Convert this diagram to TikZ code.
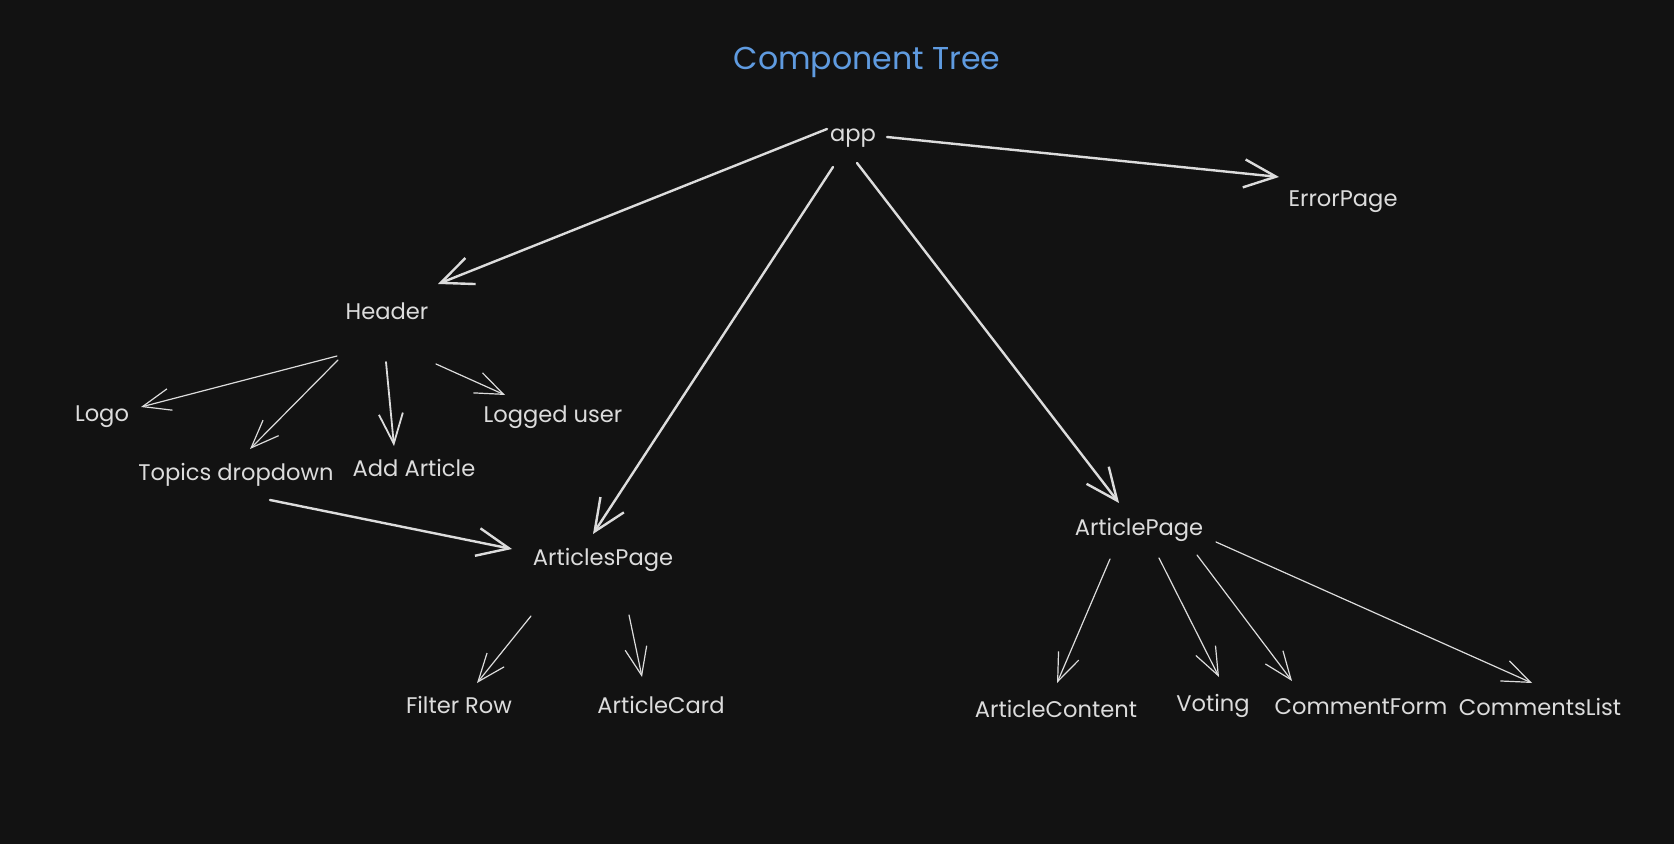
\documentclass[tikz,border=0pt]{standalone}
\usepackage{fontspec}
\setmainfont{Poppins}
\usetikzlibrary{arrows.meta,calc}
\definecolor{bg}{HTML}{121212}
\definecolor{ink}{HTML}{DCDCDC}
\definecolor{titleblue}{HTML}{5F9BE0}
\begin{document}
\begin{tikzpicture}[x=0.5pt,y=-0.5pt,
  lbl/.style={text=ink,font=\fontsize{11.3}{13}\selectfont,inner sep=0pt},
  ttl/.style={text=titleblue,font=\fontsize{15.8}{18}\selectfont,inner sep=0pt},
  thk/.style={draw=ink,line width=1.2pt,line cap=round,-{Straight Barb[length=16pt,width=14pt,line width=1.2pt]}},
  mid/.style={draw=ink,line width=0.9pt,line cap=round,-{Straight Barb[length=15pt,width=12pt,line width=0.9pt]}},
  thn/.style={draw=ink,line width=0.6pt,line cap=round,-{Straight Barb[length=14pt,width=11pt,line width=0.6pt]}}]
\useasboundingbox (0,0) rectangle (1674,844);
\fill[bg] (0,0) rectangle (1674,844);

\node[ttl] (title) at (867,62) {Component Tree};
\node[lbl] (app) at (853,138) {app};
\node[lbl] (err) at (1343,202) {ErrorPage};
\node[lbl] (header) at (387,311) {Header};
\node[lbl] (logo) at (102,417) {Logo};
\node[lbl] (topics) at (236,475) {Topics dropdown};
\node[lbl] (add) at (414,468) {Add Article};
\node[lbl] (logged) at (553,417) {Logged user};
\node[lbl] (apage) at (603,560) {ArticlesPage};
\node[lbl] (filter) at (459,705) {Filter Row};
\node[lbl] (card) at (661,705) {ArticleCard};
\node[lbl] (artp) at (1139,530) {ArticlePage};
\node[lbl] (content) at (1056,709) {ArticleContent};
\node[lbl] (voting) at (1213,706) {Voting};
\node[lbl] (cform) at (1361,707) {CommentForm};
\node[lbl] (clist) at (1540,707) {CommentsList};

\draw[thk] ($(app)+(-26,-9)$) -- ($(header)+(51,-27)$);
\draw[thk] ($(app)+(34,-1)$) -- ($(err)+(-64,-25)$);
\draw[thk] ($(app)+(-20,29)$) -- ($(apage)+(-10,-26)$);
\draw[thk] ($(app)+(4,25)$) -- ($(artp)+(-20,-27)$);

\draw[thn] ($(header)+(-50,45)$) -- ($(logo)+(39,-10)$);
\draw[thn] ($(header)+(-49,49)$) -- ($(topics)+(14,-26)$);
\draw[mid] ($(header)+(-1,51)$) -- ($(add)+(-20,-22)$);
\draw[thn] ($(header)+(49,53)$) -- ($(logged)+(-48,-22)$);

\draw[thk] ($(topics)+(34,25)$) -- ($(apage)+(-91,-11)$);

\draw[thn] ($(apage)+(-72,56)$) -- ($(filter)+(18,-22)$);
\draw[thn] ($(apage)+(26,55)$) -- ($(card)+(-19,-28)$);

\draw[thn] ($(artp)+(-29,29)$) -- ($(content)+(1,-26)$);
\draw[thn] ($(artp)+(20,28)$) -- ($(voting)+(6,-29)$);
\draw[thn] ($(artp)+(58,25)$) -- ($(cform)+(-69,-26)$);
\draw[thn] ($(artp)+(77,12)$) -- ($(clist)+(-8,-24)$);
\end{tikzpicture}
\end{document}
